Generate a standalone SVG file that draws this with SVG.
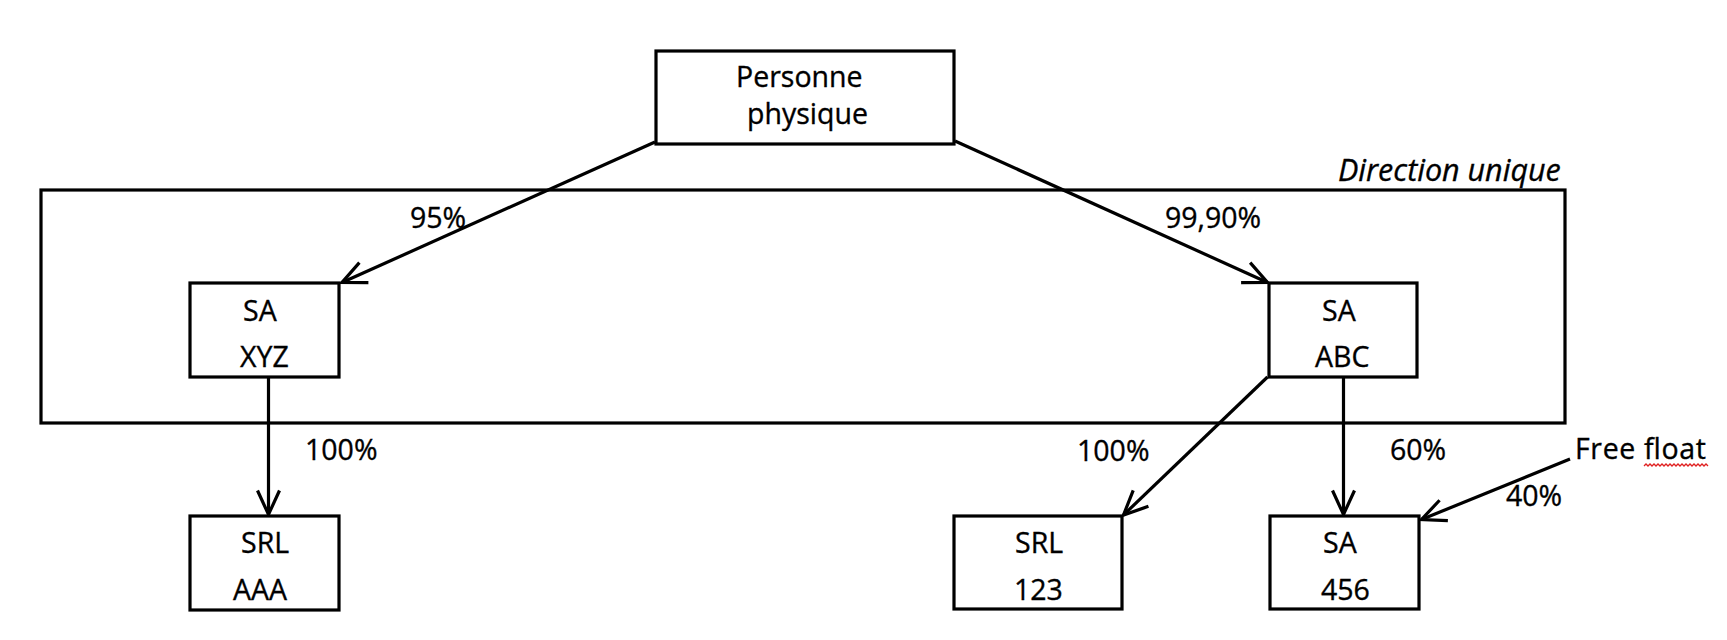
<svg xmlns="http://www.w3.org/2000/svg" width="1727" height="640" viewBox="0 0 1727 640">
<style>
.box{fill:#fff;stroke:#000;stroke-width:3.2}
.frame{fill:none;stroke:#000;stroke-width:3.2}
.ln{fill:none;stroke:#000;stroke-width:3.2;marker-end:url(#arr)}
.t{font-family:"Open Sans","Liberation Sans",sans-serif;font-size:28.5px;fill:#000;stroke:#000;stroke-width:0.35}
.it{font-style:italic;font-size:30.5px}
</style>
<defs>
<marker id="arr" markerUnits="userSpaceOnUse" viewBox="-28 -16 32 32" markerWidth="32" markerHeight="32" refX="0" refY="0" orient="auto">
<path d="M-24,-11 L0,0 L-24,11" fill="none" stroke="#000" stroke-width="3.2"/>
</marker>
</defs>
<rect width="1727" height="640" fill="#fff"/>
<g id="frame-direction-unique">
<rect class="frame" x="41" y="190" width="1524" height="233"/>
<text class="t it" x="1338" y="181">Direction unique</text>
</g>
<g id="connectors">
<line class="ln" x1="655" y1="142" x2="342" y2="282.5"/>
<line class="ln" x1="955" y1="141" x2="1267.5" y2="282.5"/>
<line class="ln" x1="268.5" y1="377" x2="268.5" y2="514.5"/>
<line class="ln" x1="1267.5" y1="377" x2="1123.5" y2="515"/>
<line class="ln" x1="1343.5" y1="377" x2="1343.5" y2="514.5"/>
<line class="ln" x1="1570" y1="459" x2="1421.5" y2="519.5"/>
<text class="t" x="410" y="228">95%</text>
<text class="t" x="1165" y="228">99,90%</text>
<text class="t" x="305" y="460">100%</text>
<text class="t" x="1077" y="461">100%</text>
<text class="t" x="1390" y="460">60%</text>
<text class="t" x="1506" y="506">40%</text>
</g>
<g id="node-personne-physique">
<rect class="box" x="656" y="51" width="298" height="93"/>
<text class="t" x="736" y="87">Personne</text>
<text class="t" x="747" y="124">physique</text>
</g>
<g id="node-sa-xyz">
<rect class="box" x="190" y="283" width="149" height="94"/>
<text class="t" x="243" y="321">SA</text>
<text class="t" x="240" y="367">XYZ</text>
</g>
<g id="node-sa-abc">
<rect class="box" x="1269" y="283" width="148" height="94"/>
<text class="t" x="1322" y="321">SA</text>
<text class="t" x="1315" y="367">ABC</text>
</g>
<g id="node-srl-aaa">
<rect class="box" x="190" y="516" width="149" height="94"/>
<text class="t" x="241" y="553">SRL</text>
<text class="t" x="233" y="600">AAA</text>
</g>
<g id="node-srl-123">
<rect class="box" x="954" y="516" width="168" height="93"/>
<text class="t" x="1015" y="553">SRL</text>
<text class="t" x="1014" y="600">123</text>
</g>
<g id="node-sa-456">
<rect class="box" x="1270" y="516" width="149" height="93"/>
<text class="t" x="1323" y="553">SA</text>
<text class="t" x="1321" y="600">456</text>
</g>
<g id="node-free-float">
<text class="t" x="1575" y="459" textLength="131">Free float</text>
<path d="M1644 466 l2 -2 l2 2 l2 -2 l2 2 l2 -2 l2 2 l2 -2 l2 2 l2 -2 l2 2 l2 -2 l2 2 l2 -2 l2 2 l2 -2 l2 2 l2 -2 l2 2 l2 -2 l2 2 l2 -2 l2 2 l2 -2 l2 2 l2 -2 l2 2 l2 -2 l2 2 l2 -2 l2 2 l2 -2 l2 2" fill="none" stroke="#e02020" stroke-width="1.3"/>
</g>
</svg>
